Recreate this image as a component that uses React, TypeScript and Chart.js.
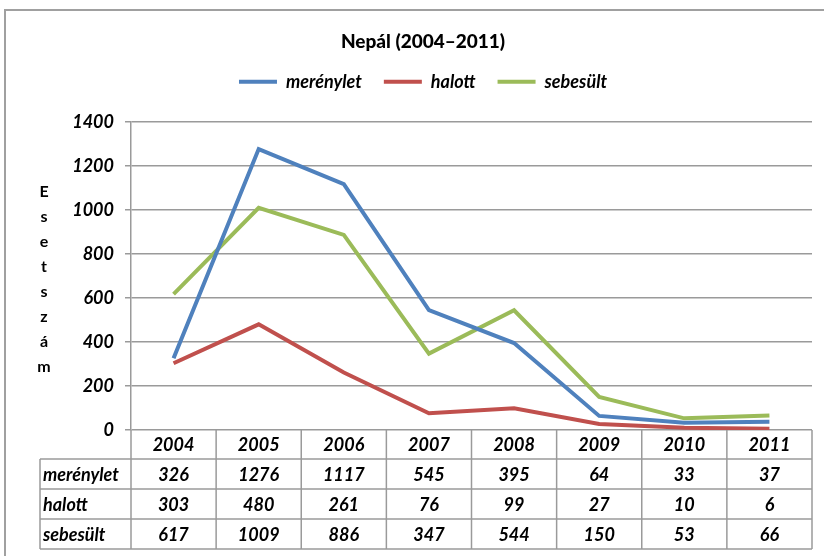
import { useEffect, useRef } from 'react';
import { Chart, registerables } from 'chart.js';

Chart.register(...registerables);

const TITLE = 'Nepál (2004–2011)';
const Y_TITLE = 'Esetszám';
const years = ['2004', '2005', '2006', '2007', '2008', '2009', '2010', '2011'];
const seriesNames = ['merénylet', 'halott', 'sebesült'];
const merenylet = [326, 1276, 1117, 545, 395, 64, 33, 37];
const halott = [303, 480, 261, 76, 99, 27, 10, 6];
const sebesult = [617, 1009, 886, 347, 544, 150, 53, 66];
const seriesValues = [merenylet, halott, sebesult];
const seriesColors = ['#4F81BD', '#C0504D', '#9BBB59'];
const yMin = 0;
const yMax = 1400;
const yStep = 200;

const FONT = 'Lato, "DejaVu Sans", sans-serif';
const GRID = '#9a9a9a';
const W = 844;
const H = 556;
const PAD_LEFT = 34;
const AREA_LEFT = 131;
const AREA_RIGHT = 812;

const framePlugin = {
  id: 'frame',
  beforeDraw(chart: any) {
    const { ctx } = chart;
    ctx.save();
    ctx.fillStyle = '#ffffff';
    ctx.fillRect(0, 0, chart.width, chart.height);
    ctx.strokeStyle = '#a0a0a0';
    ctx.lineWidth = 2;
    ctx.strokeRect(5, 10, 2000, 2000);
    ctx.restore();
  },
};

const yTitlePlugin = {
  id: 'yTitleStacked',
  afterDraw(chart: any) {
    const { ctx } = chart;
    ctx.save();
    ctx.font = `bold 16px ${FONT}`;
    ctx.fillStyle = '#000';
    ctx.textAlign = 'center';
    ctx.textBaseline = 'middle';
    Y_TITLE.split('').forEach((ch, i) => {
      ctx.fillText(ch, 44, 192 + i * 25);
    });
    ctx.restore();
  },
};

const tablePlugin = {
  id: 'dataTable',
  afterDraw(chart: any) {
    const { ctx, chartArea } = chart;
    const x = chart.scales.x;
    const half = (x.getPixelForValue(1) - x.getPixelForValue(0)) / 2;
    const top = chartArea.bottom;
    const headerH = 29;
    const rowH = 30;
    const labelLeft = 40;
    const rowsTop = top + headerH;
    const bottom = rowsTop + rowH * seriesNames.length;
    const line = (x1: number, y1: number, x2: number, y2: number) => {
      ctx.beginPath();
      ctx.moveTo(x1, y1);
      ctx.lineTo(x2, y2);
      ctx.stroke();
    };
    ctx.save();
    ctx.strokeStyle = GRID;
    ctx.lineWidth = 1.5;
    for (let r = 0; r <= seriesNames.length; r++) {
      const yy = rowsTop + r * rowH;
      line(labelLeft, yy, chartArea.right, yy);
    }
    for (let i = 0; i <= years.length; i++) {
      const xx = i === years.length ? chartArea.right : x.getPixelForValue(i) - half;
      line(xx, top, xx, bottom);
    }
    line(labelLeft, rowsTop, labelLeft, bottom);

    ctx.fillStyle = '#000';
    ctx.font = `italic bold 18px ${FONT}`;
    ctx.textBaseline = 'middle';
    ctx.textAlign = 'center';
    years.forEach((yr, i) => {
      ctx.fillText(yr, x.getPixelForValue(i), top + headerH / 2 + 1);
    });
    seriesNames.forEach((name, r) => {
      const cy = rowsTop + r * rowH + rowH / 2 + 1;
      ctx.textAlign = 'left';
      ctx.fillText(name, labelLeft + 3, cy);
      ctx.textAlign = 'center';
      seriesValues[r].forEach((v, i) => {
        ctx.fillText(String(v), x.getPixelForValue(i), cy);
      });
    });
    ctx.restore();
  },
};

const legendSpacePlugin = {
  id: 'legendSpace',
  beforeInit(chart: any) {
    const legend = chart.legend;
    if (legend) {
      const orig = legend.fit;
      legend.fit = function () {
        orig.call(this);
        this.height += 21;
      };
    }
  },
};

export default function App() {
  const ref = useRef<HTMLCanvasElement | null>(null);
  useEffect(() => {
    if (!ref.current) return;
    const chart = new Chart(ref.current, {
      type: 'line',
      data: {
        labels: years,
        datasets: seriesNames.map((name, i) => ({
          label: name,
          data: seriesValues[i],
          borderColor: seriesColors[i],
          backgroundColor: seriesColors[i],
          borderWidth: 4,
          pointRadius: 0,
          tension: 0,
          fill: false,
        })),
      },
      options: {
        responsive: false,
        animation: false,
        layout: { padding: { left: PAD_LEFT, right: W - AREA_RIGHT, top: 0, bottom: 126 } },
        plugins: {
          title: {
            display: true,
            text: TITLE,
            color: '#000',
            font: { family: FONT, size: 19, weight: 900, lineHeight: 1.2 },
            padding: { top: 30, bottom: -2 },
          },
          legend: {
            display: true,
            position: 'top',
            labels: {
              color: '#000',
              font: { family: FONT, size: 18, weight: 'bold', style: 'italic' },
              boxWidth: 38,
              boxHeight: 4,
              padding: 22,
              generateLabels(ch: any) {
                const items = Chart.defaults.plugins.legend.labels.generateLabels(ch);
                return items.map((it: any, i: number) => ({
                  ...it,
                  fillStyle: seriesColors[i],
                  strokeStyle: seriesColors[i],
                  lineWidth: 0,
                }));
              },
            },
          },
          tooltip: { enabled: false },
        },
        scales: {
          x: {
            display: false,
            offset: true,
          },
          y: {
            min: yMin,
            max: yMax,
            ticks: {
              stepSize: yStep,
              color: '#000',
              padding: 11,
              font: { family: FONT, size: 18, weight: 'bold', style: 'italic' },
              callback: (v: any) => String(v),
            },
            grid: {
              color: GRID,
              lineWidth: 1.5,
              tickLength: 6,
              drawTicks: true,
            },
            border: { display: true, color: GRID, width: 1.5 },
            afterFit(scale: any) {
              scale.width = AREA_LEFT - PAD_LEFT;
            },
          },
        },
      },
      plugins: [framePlugin, legendSpacePlugin, yTitlePlugin, tablePlugin],
    } as any);
    return () => chart.destroy();
  }, []);
  return (
    <div style={{ position: 'fixed', left: 0, top: 0, width: 824, height: 556, overflow: 'hidden', background: '#fff' }}>
      <canvas ref={ref} width={W} height={H} style={{ display: 'block', width: W, height: H }} />
    </div>
  );
}
